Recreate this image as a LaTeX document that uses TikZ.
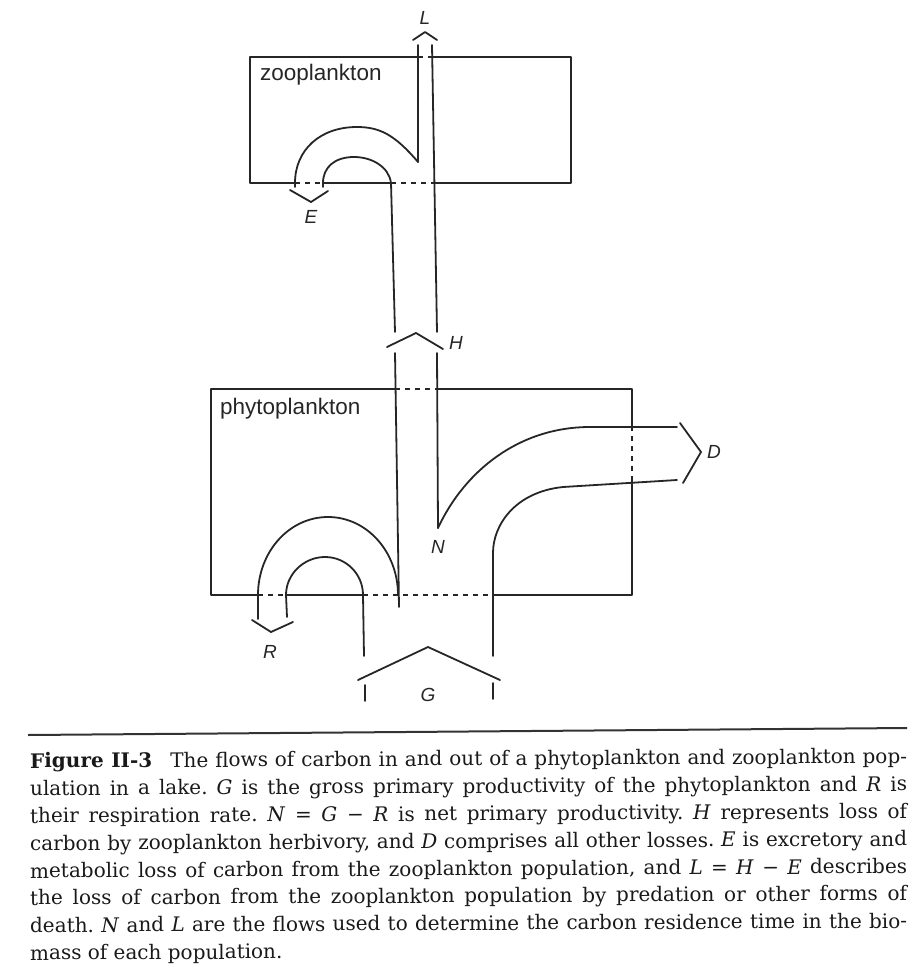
\documentclass[tikz,border=0pt]{standalone}
\usepackage{fontspec}
\setmainfont{DejaVu Serif}
\newfontfamily\labfont{Liberation Sans}
\begin{document}
\frenchspacing
\begin{tikzpicture}[x=1pt,y=-1pt,
  ln/.style={line width=1.8pt, line cap=round, line join=round, draw=black!85},
  dsh/.style={line width=1.6pt, dash pattern=on 5pt off 5pt, draw=black!85},
  boxlab/.style={font=\labfont\fontsize{22.5}{26}\selectfont, anchor=base west, inner sep=0pt, text=black!85},
  flowlab/.style={font=\labfont\itshape\fontsize{19}{22}\selectfont, inner sep=0pt, text=black!85},
  capline/.style={anchor=base west, inner sep=0pt, rotate=0.3, text=black!90, font=\fontsize{20}{27}\selectfont}]
\useasboundingbox (0,0) rectangle (921,969);

% ---------- zooplankton box ----------
\draw[ln] (418,57) -- (250,57) -- (250,183) -- (295,183);
\draw[dsh] (295,183) -- (323,183);
\draw[ln] (323,183) -- (391,183);
\draw[dsh] (391,183) -- (434,183);
\draw[ln] (434,183) -- (571,183) -- (571,57) -- (432,57);
\draw[dsh] (418,57) -- (432,57);
\node[boxlab] (zoo) at (260,80) {zooplankton};

% L channel
\draw[ln] (418,45) -- (418,162);
\draw[ln] (432,45) -- (437,332);
\draw[ln] (413,40) -- (425,32) -- (437,40);
\node[flowlab] (L) at (425,18) {L};

% E loop
\draw[ln] (418,162) .. controls (395,135) and (380,127) .. (357,127)
  .. controls (320,127) and (295,150) .. (295,183) -- (295,187);
\draw[ln] (323,187) -- (323,183) .. controls (323,167) and (335,157) .. (354,157)
  .. controls (372,157) and (389,167) .. (391,183) -- (395,332);
\draw[ln] (290,190) -- (311,202) -- (328,191);
\node[flowlab] (E) at (311,217) {E};

% H arrow
\draw[ln] (387,347) -- (416,333) -- (443,349);
\node[flowlab] (H) at (456,343) {H};
\draw[ln] (395,353) -- (399,607);
\draw[ln] (437,353) -- (438,528);

% ---------- phytoplankton box ----------
\draw[ln] (395,389) -- (211,389) -- (211,595) -- (258,595);
\draw[dsh] (258,595) -- (286,595);
\draw[ln] (286,595) -- (363,595);
\draw[dsh] (363,595) -- (493,595);
\draw[ln] (493,595) -- (632,595) -- (632,481);
\draw[dsh] (632,481) -- (632,427);
\draw[ln] (632,427) -- (632,389) -- (437,389);
\draw[dsh] (395,389) -- (437,389);
\node[boxlab] (phy) at (220,414) {phytoplankton};

% N -> D
\draw[ln] (438,528) .. controls (465,470) and (520,427) .. (590,427) -- (677,427);
\draw[ln] (493,656) -- (493,553) .. controls (493,525) and (515,492) .. (563,487) -- (677,480);
\draw[ln] (680,423) -- (701,452) -- (683,483);
\node[flowlab] (D) at (714,452) {D};
\node[flowlab] (N) at (438,547) {N};

% R loop
\draw[ln] (258,619) -- (258,595) .. controls (258,552) and (289,517) .. (328,517)
  .. controls (367,517) and (398,552) .. (398,595);
\draw[ln] (287,617) -- (286,595) .. controls (286,574) and (304,557) .. (325,557)
  .. controls (346,557) and (363,574) .. (363,595) -- (364,656);
\draw[ln] (252,620) -- (271,632) -- (293,622);
\node[flowlab] (R) at (270,652) {R};

% G
\draw[ln] (358,680) -- (428,647) -- (500,680);
\draw[ln] (365,685) -- (365,701);
\draw[ln] (493,683) -- (493,699);
\node[flowlab] (G) at (428,695) {G};

% ---------- caption ----------
\draw[line width=2pt, draw=black!80] (28,735) -- (907,728);
\node[capline] (c1) at (30,768) {\makebox[877pt][s]{\textbf{Figure II-3}\hspace{0.9em}The flows of carbon in and out of a phytoplankton and zooplankton pop-}};
\node[capline] (c2) at (30,795.5) {\makebox[877pt][s]{ulation in a lake. \textit{G} is the gross primary productivity of the phytoplankton and \textit{R} is}};
\node[capline] (c3) at (30,823) {\makebox[877pt][s]{their respiration rate. \textit{N} = \textit{G} − \textit{R} is net primary productivity. \textit{H} represents loss of}};
\node[capline] (c4) at (30,850.5) {\makebox[877pt][s]{carbon by zooplankton herbivory, and \textit{D} comprises all other losses. \textit{E} is excretory and}};
\node[capline] (c5) at (30,878) {\makebox[877pt][s]{metabolic loss of carbon from the zooplankton population, and \textit{L} = \textit{H} − \textit{E} describes}};
\node[capline] (c6) at (30,905) {\makebox[877pt][s]{the loss of carbon from the zooplankton population by predation or other forms of}};
\node[capline] (c7) at (30,932.5) {\makebox[877pt][s]{death. \textit{N} and \textit{L} are the flows used to determine the carbon residence time in the bio-}};
\node[capline] (c8) at (30,960) {mass of each population.};
\end{tikzpicture}
\end{document}
